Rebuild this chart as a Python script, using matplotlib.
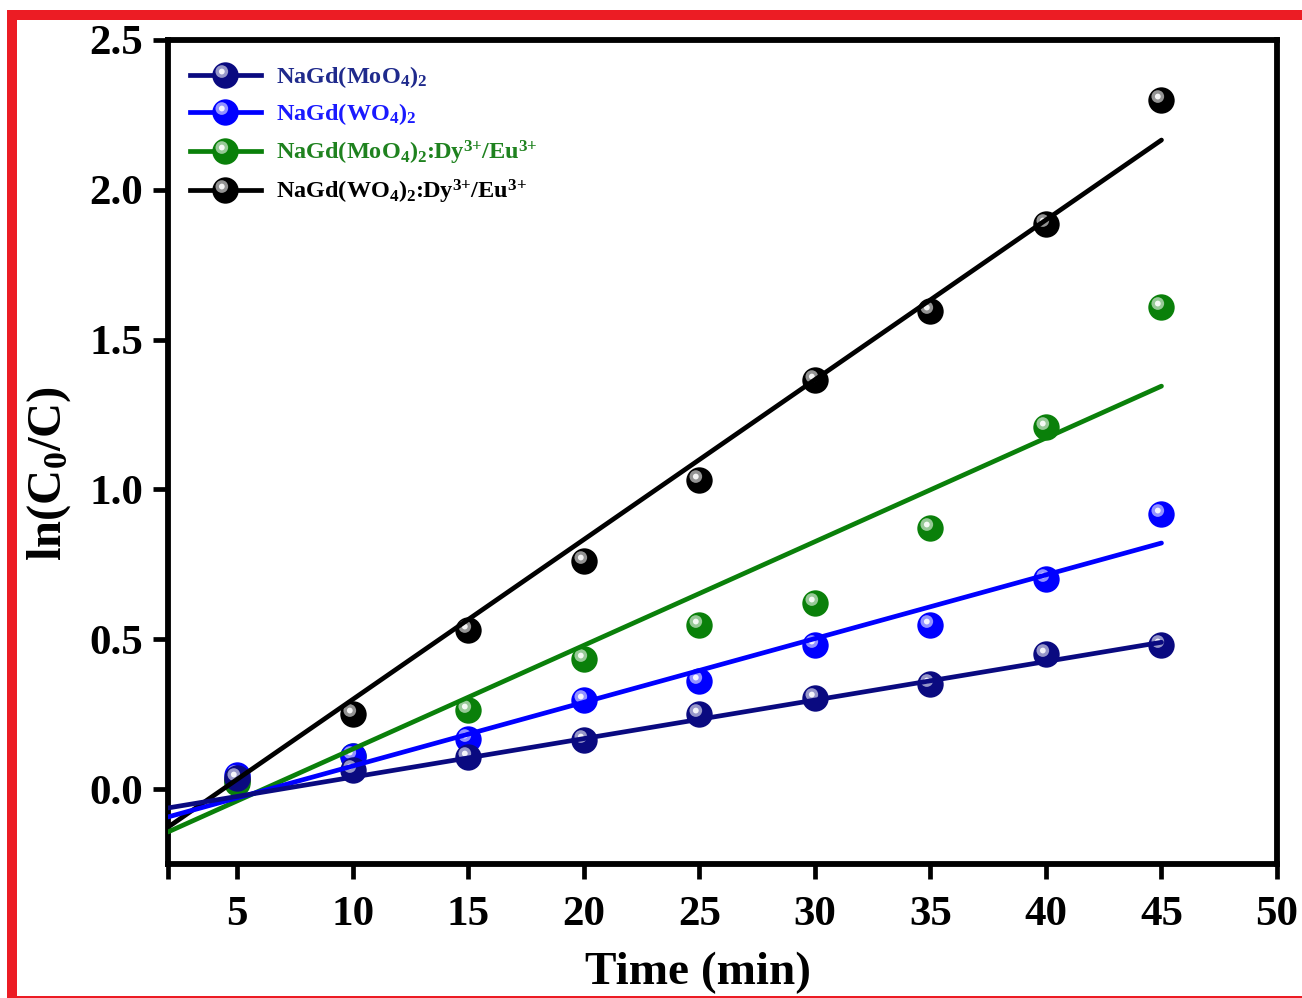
import numpy as np
import matplotlib
matplotlib.use("Agg")
import matplotlib.pyplot as plt
from matplotlib.path import Path
from matplotlib.lines import Line2D
from matplotlib.patches import Rectangle
from matplotlib.legend_handler import HandlerTuple

# -----------------------------
# DATA
# -----------------------------
time = [5, 10, 15, 20, 25, 30, 35, 40, 45]

ln_mo = [0.037, 0.063, 0.107, 0.164, 0.25, 0.304, 0.35, 0.45, 0.48]
ln_w = [0.047, 0.11, 0.167, 0.297, 0.36, 0.48, 0.547, 0.70, 0.918]
ln_mo_dy = [0.02, 0.11, 0.264, 0.434, 0.547, 0.62, 0.87, 1.21, 1.61]
ln_w_dy = [0.03, 0.25, 0.53, 0.76, 1.03, 1.365, 1.595, 1.885, 2.30]

labels = [
    r"NaGd(MoO$_4$)$_2$",
    r"NaGd(WO$_4$)$_2$",
    r"NaGd(MoO$_4$)$_2$:Dy$^{3{+}}$/Eu$^{3{+}}$",
    r"NaGd(WO$_4$)$_2$:Dy$^{3{+}}$/Eu$^{3{+}}$",
]

# linear fits (slope, intercept) as drawn
fit_slope = [0.01286, 0.02126, 0.0346, 0.05333]
fit_icpt = [-0.0887, -0.1355, -0.2122, -0.2337]
fit_range = [2, 45]

# -----------------------------
# STYLE
# -----------------------------
series = [ln_mo, ln_w, ln_mo_dy, ln_w_dy]
colors = ["#0a0a80", "#0000ff", "#0a800a", "#000000"]
text_colors = ["#1f2a8c", "#1a1aff", "#1f821f", "#000000"]
RED = "#ec1c24"
MS = 19  # sphere diameter (pt)

plt.rcParams["font.family"] = ["Liberation Serif", "DejaVu Serif"]
plt.rcParams["font.weight"] = "bold"
plt.rcParams["mathtext.fontset"] = "custom"
plt.rcParams["mathtext.rm"] = "Liberation Serif:bold"
plt.rcParams["mathtext.it"] = "Liberation Serif:bold"
plt.rcParams["mathtext.bf"] = "Liberation Serif:bold"
plt.rcParams["mathtext.default"] = "rm"


def glint(cx, cy, r):
    # offset circle used as a marker; returns path and size factor
    p = Path.circle((cx, cy), r)
    return p, np.max(np.abs(p.vertices))


glint_outer, f_outer = glint(-0.28, 0.30, 0.48)
glint_inner, f_inner = glint(-0.28, 0.30, 0.22)


def sphere_handles(c, line=False):
    base = Line2D([], [], color=c, lw=3.4 if line else 0, ls="-" if line else "none",
                  marker="o", ms=MS, mfc=c, mec=c, mew=0)
    g1 = Line2D([], [], ls="none", marker=glint_outer, ms=MS * f_outer,
                mfc=(1, 1, 1, 0.58), mew=0)
    g2 = Line2D([], [], ls="none", marker=glint_inner, ms=MS * f_inner,
                mfc=(1, 1, 1, 0.9), mew=0)
    return base, g1, g2


fig = plt.figure(figsize=(13.02, 9.98), dpi=100)
ax = fig.add_axes([168 / 1302, 1 - 864 / 998, 1109 / 1302, 824 / 998])

# markers: black first, navy on top
for k in [3, 2, 1, 0]:
    z = 3 + (3 - k) * 0.1
    c = colors[k]
    ax.plot(time, series[k], ls="none", marker="o", ms=MS, mfc=c, mew=0, zorder=z)
    ax.plot(time, series[k], ls="none", marker=glint_outer, ms=MS * f_outer,
            mfc=(1, 1, 1, 0.58), mew=0, zorder=z + 0.01)
    ax.plot(time, series[k], ls="none", marker=glint_inner, ms=MS * f_inner,
            mfc=(1, 1, 1, 0.9), mew=0, zorder=z + 0.02)

# fit lines on top
xf = np.array(fit_range, dtype=float)
for k in [3, 2, 1, 0]:
    ax.plot(xf, fit_slope[k] * xf + fit_icpt[k], color=colors[k], lw=3.4,
            solid_capstyle="round", zorder=5 + (3 - k) * 0.1)

ax.set_xlim(2, 50)
ax.set_ylim(-0.25, 2.5)
ax.set_xticks([2, 5, 10, 15, 20, 25, 30, 35, 40, 45, 50])
ax.set_xticklabels(["", "5", "10", "15", "20", "25", "30", "35", "40", "45", "50"])
ax.set_yticks([0.0, 0.5, 1.0, 1.5, 2.0, 2.5])
ax.set_yticklabels(["0.0", "0.5", "1.0", "1.5", "2.0", "2.5"])
ax.tick_params(direction="out", length=11, width=3.4, labelsize=31)
ax.tick_params(axis="x", pad=12)
ax.tick_params(axis="y", pad=7)
for s in ax.spines.values():
    s.set_linewidth(4.2)

ax.set_xlabel("Time (min)", fontsize=34, fontweight="bold")
ax.set_ylabel(r"ln(C$_0$/C)", fontsize=35, fontweight="bold")
ax.xaxis.set_label_coords(0.478, -0.106)
ax.yaxis.set_label_coords(-0.086, 0.474)

handles = [sphere_handles(c, line=True) for c in colors]
leg = ax.legend(handles, labels, loc="upper left", bbox_to_anchor=(-0.002, 1.0),
                frameon=False, fontsize=17.5, numpoints=1, handlelength=2.9,
                handletextpad=0.62, labelspacing=0.46, borderaxespad=0.6,
                handler_map={tuple: HandlerTuple(ndivide=1, pad=0)})
for t, tc in zip(leg.get_texts(), text_colors):
    t.set_color(tc)

# red frame around the picture
fig.add_artist(Rectangle((7 / 1302, 0), 10 / 1302, 988 / 998,
                         transform=fig.transFigure, color=RED, lw=0))
fig.add_artist(Rectangle((7 / 1302, 1 - 20 / 998), 1295 / 1302, 10 / 998,
                         transform=fig.transFigure, color=RED, lw=0))
fig.add_artist(Rectangle((7 / 1302, 0), 1295 / 1302, 2.5 / 998,
                         transform=fig.transFigure, color=RED, lw=0))

fig.savefig("out.png", dpi=100)
plt.close(fig)
